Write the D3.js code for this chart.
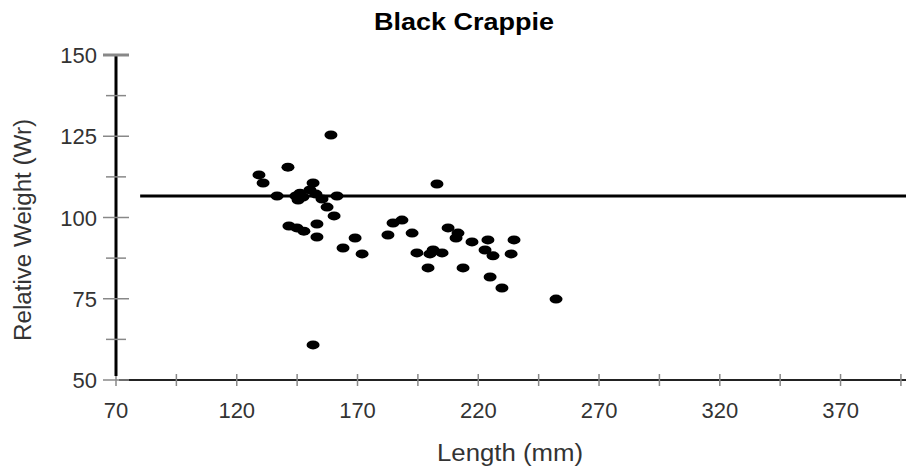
<!DOCTYPE html>
<html><head><meta charset="utf-8">
<script src="https://cdn.jsdelivr.net/npm/d3@7"></script>
<style>body{margin:0;background:#fff}svg{display:block}text{font-family:"Liberation Sans",Arial,sans-serif}</style>
</head><body><svg id="c" width="906" height="467"></svg>
<script>
const title = "Black Crappie";
const xLabel = "Length (mm)";
const yLabel = "Relative Weight (Wr)";
const xTickLabels = [70,120,170,220,270,320,370];
const xMinorTicks = [95,145,195,245,295,345,395];
const yTickLabels = [50,75,100,125,150];
const yMinorTicks = [62.5,87.5,112.5,137.5];
const refLine = {x0: 80, x1: 400, y: 106.6};
const lengths = [129.2,130.9,141.2,136.7,144.5,146.2,145.4,147.4,151.6,150.3,152.8,155.3,157.4,160.3,161.5,159.0,
  141.6,144.9,147.8,153.2,153.2,151.6,169.0,164.0,171.9,182.6,184.7,188.4,192.6,194.6,199.2,200.0,201.3,205.0,
  202.9,207.5,211.6,210.8,217.4,224.0,234.8,222.8,226.1,233.6,213.7,224.9,229.8,252.2];
const weights = [113.1,110.6,115.5,106.6,106.6,107.5,105.4,106.3,110.6,108.5,107.2,105.7,103.2,100.5,106.6,125.4,
  97.4,96.8,95.8,98.0,94.0,60.8,93.7,90.6,88.8,94.6,98.3,99.2,95.2,89.1,84.5,88.8,90.0,89.1,
  110.3,96.8,95.2,93.7,92.5,93.1,93.1,90.0,88.2,88.8,84.5,81.7,78.3,74.9];

const svg = d3.select("#c");
const x = d3.scaleLinear().domain([70,400]).range([116,913]);
const y = d3.scaleLinear().domain([50,150]).range([380,55]);

// title
svg.append("text").attr("x",464).attr("y",30).attr("text-anchor","middle")
  .attr("font-size",23).attr("font-weight","bold").attr("fill","#000")
  .attr("textLength",180).attr("lengthAdjust","spacingAndGlyphs").text(title);

// x axis line
svg.append("line").attr("x1",x(70)+3).attr("x2",906).attr("y1",y(50)).attr("y2",y(50))
  .attr("stroke","#222").attr("stroke-width",2);
// x ticks
svg.selectAll(".xt").data(xTickLabels.concat(xMinorTicks)).join("line")
  .attr("x1",d=>x(d)).attr("x2",d=>x(d)).attr("y1",y(50)-6).attr("y2",y(50)+6)
  .attr("stroke","#888").attr("stroke-width",1.5);
svg.selectAll(".xl").data(xTickLabels).join("text")
  .attr("x",d=>x(d)).attr("y",y(50)+38).attr("text-anchor","middle")
  .attr("font-size",22).attr("fill","#333").text(d=>d);

// y axis line
svg.append("line").attr("x1",x(70)).attr("x2",x(70)).attr("y1",y(150)).attr("y2",y(50)-4)
  .attr("stroke","#000").attr("stroke-width",3);
svg.selectAll(".ytM").data(yTickLabels).join("line")
  .attr("x1",x(70)-13).attr("x2",x(70)+13).attr("y1",d=>y(d)).attr("y2",d=>y(d))
  .attr("stroke","#888").attr("stroke-width",d=>d===150?3:1.5);
svg.selectAll(".ytm").data(yMinorTicks).join("line")
  .attr("x1",x(70)-10).attr("x2",x(70)+10).attr("y1",d=>y(d)).attr("y2",d=>y(d))
  .attr("stroke","#888").attr("stroke-width",1.5);
svg.selectAll(".yl").data(yTickLabels).join("text")
  .attr("x",x(70)-19).attr("y",d=>y(d)+8).attr("text-anchor","end")
  .attr("font-size",22).attr("fill","#333").text(d=>d);

// axis titles
svg.append("text").attr("x",510).attr("y",461).attr("text-anchor","middle")
  .attr("font-size",23).attr("fill","#333")
  .attr("textLength",146).attr("lengthAdjust","spacingAndGlyphs").text(xLabel);
svg.append("text").attr("transform","translate(31,230) rotate(-90)").attr("text-anchor","middle")
  .attr("font-size",23).attr("fill","#333")
  .attr("textLength",222).attr("lengthAdjust","spacingAndGlyphs").text(yLabel);

// reference line
svg.append("line").attr("x1",x(refLine.x0)).attr("x2",x(refLine.x1)).attr("y1",y(refLine.y)).attr("y2",y(refLine.y))
  .attr("stroke","#000").attr("stroke-width",3);

// points
svg.selectAll(".pt").data(lengths.map((l,i)=>[l,weights[i]])).join("ellipse")
  .attr("cx",d=>x(d[0])).attr("cy",d=>y(d[1])).attr("rx",6.5).attr("ry",4.5).attr("fill","#000");
</script></body></html>
